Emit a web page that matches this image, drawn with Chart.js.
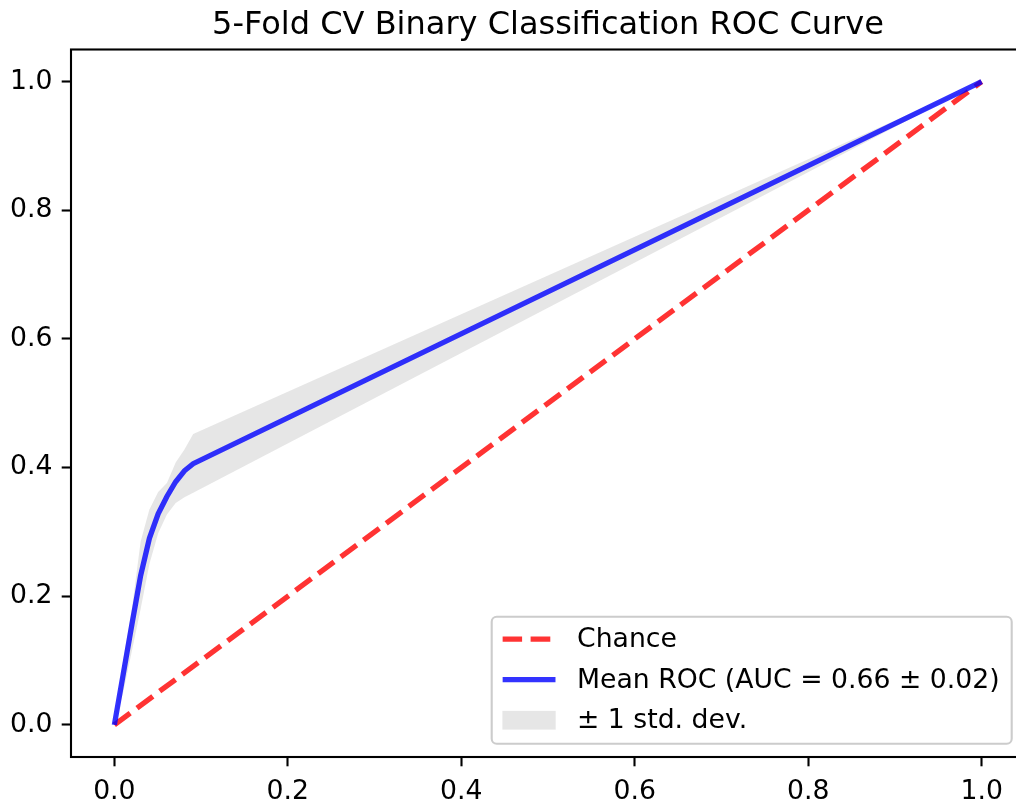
<!DOCTYPE html>
<html>
<head>
<meta charset="utf-8">
<script src="https://cdn.jsdelivr.net/npm/chart.js@4.4.0/dist/chart.umd.min.js"></script>
<style>
  html, body { margin: 0; padding: 0; background: #fff; overflow: hidden; }
  canvas { display: block; }
</style>
</head>
<body>
<canvas id="roc" width="1060" height="802"></canvas>
<script>
// False positive rate grid where the mean curve bends, plus the end point
const meanFpr = [0, 0.0101, 0.0202, 0.0303, 0.0404, 0.0505, 0.0606, 0.0707, 0.0808, 0.0909, 1.0];
// Mean true positive rate across the 5 folds
const meanTpr = [0, 0.078, 0.156, 0.232, 0.290, 0.328, 0.355, 0.378, 0.395, 0.406, 1.0];
// Mean TPR + / - one standard deviation
const tprUpper = [0, 0.100, 0.180, 0.285, 0.335, 0.362, 0.376, 0.408, 0.428, 0.452, 1.0];
const tprLower = [0, 0.050, 0.115, 0.180, 0.250, 0.298, 0.327, 0.345, 0.354, 0.361, 1.0];
// Diagonal for a random classifier
const chanceFpr = [0, 1];
const chanceTpr = [0, 1];
const tickValues = [0, 0.2, 0.4, 0.6, 0.8, 1.0];

const meanAuc = '0.66';
const stdAuc = '0.02';

const FONT = 'DejaVu Sans';
const toPoints = (xs, ys) => xs.map((x, i) => ({ x: x, y: ys[i] }));

const colors = {
    blue: 'rgba(0, 0, 255, 0.8)',
    red: 'rgba(255, 0, 0, 0.8)',
    band: 'rgba(128, 128, 128, 0.2)'
};

// axes box on all four sides
const framePlugin = {
    id: 'frame',
    afterDraw(chart) {
        const { ctx, chartArea: a } = chart;
        ctx.save();
        ctx.strokeStyle = '#000';
        ctx.lineWidth = 2.1;
        ctx.strokeRect(a.left, a.top, a.right - a.left, a.bottom - a.top);
        ctx.restore();
    }
};

// title centred above the axes
const titlePlugin = {
    id: 'plotTitle',
    afterDraw(chart) {
        const { ctx, chartArea: a } = chart;
        ctx.save();
        ctx.font = '32px "' + FONT + '"';
        ctx.fillStyle = '#000';
        ctx.textAlign = 'center';
        ctx.textBaseline = 'alphabetic';
        ctx.fillText('5-Fold CV Binary Classification ROC Curve', (a.left + a.right) / 2, a.top - 16);
        ctx.restore();
    }
};

// legend box in the lower right corner
const legendPlugin = {
    id: 'cornerLegend',
    afterDraw(chart) {
        const { ctx, chartArea: a } = chart;
        const ds = chart.data.datasets;
        const entries = [ds[1], ds[0], ds[2]];
        const w = 520, h = 127, pad = 13.3;
        const x0 = a.right - pad - w, y0 = a.bottom - pad - h;

        ctx.save();
        ctx.beginPath();
        ctx.roundRect(x0, y0, w, h, 5);
        ctx.fillStyle = 'rgba(255, 255, 255, 0.8)';
        ctx.fill();
        ctx.strokeStyle = '#cccccc';
        ctx.lineWidth = 2.1;
        ctx.stroke();

        ctx.font = '26.7px "' + FONT + '"';
        ctx.textBaseline = 'middle';
        ctx.textAlign = 'left';
        entries.forEach((d, i) => {
            const cy = y0 + 22.5 + i * 40.5;
            const hx = x0 + 10.7, hw = 53.3;
            if (d.fill) {
                ctx.fillStyle = d.backgroundColor;
                ctx.fillRect(hx, cy - 9.3, hw, 18.7);
            } else {
                ctx.save();
                ctx.beginPath();
                ctx.rect(hx, cy - 10, hw, 20);
                ctx.clip();
                ctx.beginPath();
                ctx.setLineDash(d.borderDash || []);
                ctx.strokeStyle = d.borderColor;
                ctx.lineWidth = d.borderWidth;
                ctx.moveTo(hx, cy);
                ctx.lineTo(hx + hw, cy);
                ctx.stroke();
                ctx.restore();
            }
            ctx.fillStyle = '#000';
            ctx.fillText(d.label, x0 + 85.3, cy + 1);
        });
        ctx.restore();
    }
};

const axisOptions = (fitFn) => ({
    type: 'linear',
    min: -0.05,
    max: 1.05,
    grid: { drawOnChartArea: false, drawTicks: true, tickLength: 9.3, tickWidth: 2.1, tickColor: '#000' },
    border: { display: false },
    ticks: {
        padding: 9.3,
        color: '#000',
        font: { family: FONT, size: 26.7 },
        maxRotation: 0,
        autoSkip: false,
        callback: v => Number(v).toFixed(1)
    },
    afterBuildTicks: s => { s.ticks = tickValues.map(v => ({ value: v })); },
    afterFit: fitFn
});

new Chart(document.getElementById('roc'), {
    type: 'scatter',
    data: {
        datasets: [{
            label: 'Mean ROC (AUC = ' + meanAuc + ' \u00b1 ' + stdAuc + ')',
            data: toPoints(meanFpr, meanTpr),
            showLine: true,
            borderColor: colors.blue,
            borderWidth: 5.3,
            pointRadius: 0,
            fill: false,
            order: 0
        }, {
            label: 'Chance',
            data: toPoints(chanceFpr, chanceTpr),
            showLine: true,
            borderColor: colors.red,
            borderWidth: 5.3,
            borderDash: [19.7, 8.5],
            borderCapStyle: 'butt',
            pointRadius: 0,
            fill: false,
            order: 1
        }, {
            label: '\u00b1 1 std. dev.',
            data: toPoints(meanFpr, tprUpper),
            showLine: true,
            borderColor: 'transparent',
            borderWidth: 0,
            backgroundColor: colors.band,
            pointRadius: 0,
            fill: '+1',
            order: 2
        }, {
            label: 'lower',
            data: toPoints(meanFpr, tprLower),
            showLine: true,
            borderColor: 'transparent',
            borderWidth: 0,
            pointRadius: 0,
            fill: false,
            order: 3
        }]
    },
    options: {
        responsive: false,
        animation: false,
        events: [],
        layout: { padding: { top: 49.5, right: 35, left: 0, bottom: 0 } },
        plugins: {
            legend: { display: false },
            tooltip: { enabled: false },
            title: { display: false }
        },
        scales: {
            x: axisOptions(s => { s.height = 45; }),
            y: axisOptions(s => { s.width = 71; })
        }
    },
    plugins: [framePlugin, titlePlugin, legendPlugin]
});
</script>
</body>
</html>
